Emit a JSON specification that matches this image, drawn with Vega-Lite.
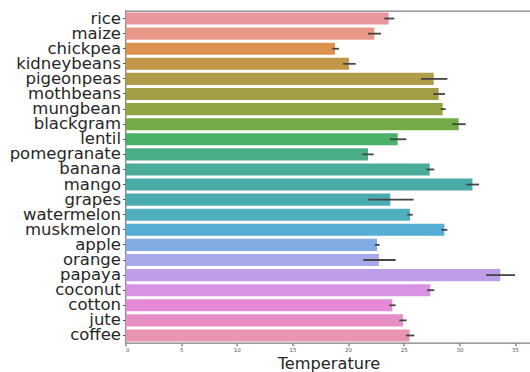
{
  "$schema": "https://vega.github.io/schema/vega-lite/v6.json",
  "width": 406,
  "height": 332,
  "autosize": "none",
  "padding": {"left": 125.5, "top": 11, "right": 0, "bottom": 29},
  "background": "white",
  "config": {
    "view": {"stroke": "#7f7f7f", "strokeWidth": 1.3},
    "font": "DejaVu Sans"
  },
  "data": {"values": [
    {"crop": "rice", "mean": 23.64, "lo": 23.25, "hi": 24.15, "c": "#e9959e"},
    {"crop": "maize", "mean": 22.36, "lo": 21.79, "hi": 22.95, "c": "#e89888"},
    {"crop": "chickpea", "mean": 18.82, "lo": 18.58, "hi": 19.18, "c": "#dc924f"},
    {"crop": "kidneybeans", "mean": 20.08, "lo": 19.54, "hi": 20.68, "c": "#c3974a"},
    {"crop": "pigeonpeas", "mean": 27.69, "lo": 26.55, "hi": 28.92, "c": "#b09b48"},
    {"crop": "mothbeans", "mean": 28.14, "lo": 27.66, "hi": 28.71, "c": "#a09f45"},
    {"crop": "mungbean", "mean": 28.5, "lo": 28.32, "hi": 28.77, "c": "#91a444"},
    {"crop": "blackgram", "mean": 29.94, "lo": 29.37, "hi": 30.57, "c": "#73ab47"},
    {"crop": "lentil", "mean": 24.45, "lo": 23.76, "hi": 25.23, "c": "#4bb067"},
    {"crop": "pomegranate", "mean": 21.79, "lo": 21.28, "hi": 22.3, "c": "#4aad88"},
    {"crop": "banana", "mean": 27.33, "lo": 27.03, "hi": 27.75, "c": "#4aac98"},
    {"crop": "mango", "mean": 31.17, "lo": 30.63, "hi": 31.77, "c": "#4aaaa5"},
    {"crop": "grapes", "mean": 23.79, "lo": 21.82, "hi": 25.89, "c": "#4cabb0"},
    {"crop": "watermelon", "mean": 25.56, "lo": 25.32, "hi": 25.8, "c": "#4fafbf"},
    {"crop": "muskmelon", "mean": 28.65, "lo": 28.38, "hi": 28.92, "c": "#55acd4"},
    {"crop": "apple", "mean": 22.6, "lo": 22.41, "hi": 22.83, "c": "#80abe3"},
    {"crop": "orange", "mean": 22.77, "lo": 21.37, "hi": 24.27, "c": "#a7a9e9"},
    {"crop": "papaya", "mean": 33.68, "lo": 32.39, "hi": 35.0, "c": "#c09de8"},
    {"crop": "coconut", "mean": 27.39, "lo": 27.09, "hi": 27.75, "c": "#d893e3"},
    {"crop": "cotton", "mean": 23.97, "lo": 23.7, "hi": 24.27, "c": "#e68ad8"},
    {"crop": "jute", "mean": 24.93, "lo": 24.6, "hi": 25.26, "c": "#e78fc5"},
    {"crop": "coffee", "mean": 25.53, "lo": 25.2, "hi": 25.95, "c": "#e895b0"}
  ]},
  "encoding": {
    "y": {
      "field": "crop", "type": "nominal", "sort": null,
      "scale": {"paddingInner": 0.2, "paddingOuter": 0.1},
      "axis": {
        "title": null, "labelFontSize": 16.5, "labelColor": "#262626",
        "labelOverlap": false, "labelPadding": 2, "tickSize": 3,
        "tickColor": "#555", "domain": false, "labelBaseline": "middle"
      }
    }
  },
  "layer": [
    {
      "mark": {"type": "bar"},
      "encoding": {
        "x": {
          "field": "mean", "type": "quantitative",
          "scale": {"domain": [0, 36.48], "nice": false, "zero": true},
          "axis": {
            "title": "Temperature", "titleFontSize": 16.2, "titleFontWeight": "normal",
            "titleColor": "#262626", "titleBaseline": "alphabetic", "titleY": 25.3,
            "values": [0, 5, 10, 15, 20, 25, 30, 35],
            "labelFontSize": 5.5, "labelColor": "#555", "tickSize": 3,
            "tickColor": "#555", "grid": false, "domain": false, "labelPadding": 1
          }
        },
        "color": {"field": "c", "type": "nominal", "scale": null}
      }
    },
    {
      "mark": {"type": "rule", "color": "#454545", "strokeWidth": 1.8},
      "encoding": {
        "x": {"field": "lo", "type": "quantitative"},
        "x2": {"field": "hi"}
      }
    }
  ]
}
